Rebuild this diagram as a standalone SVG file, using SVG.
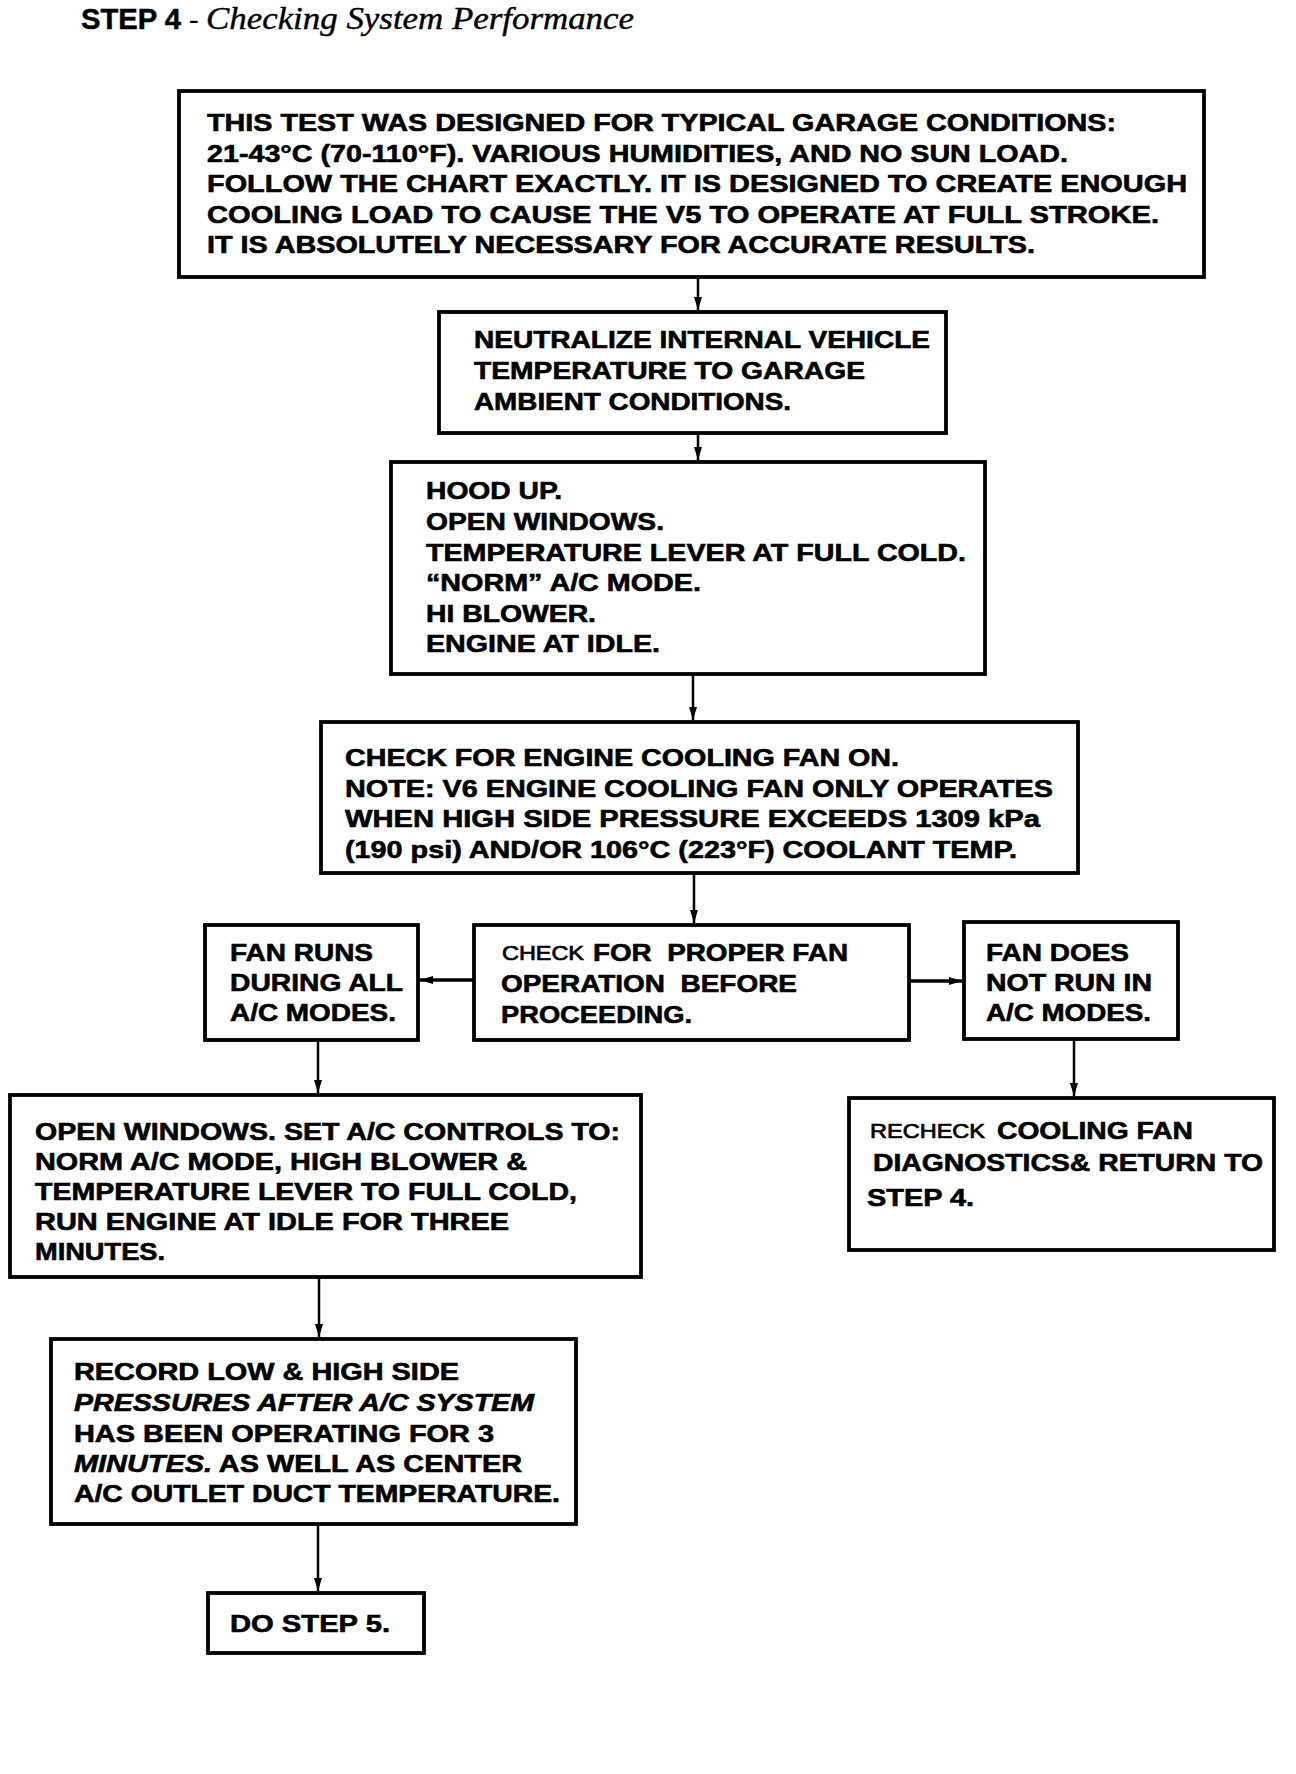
<svg xmlns="http://www.w3.org/2000/svg" width="1296" height="1774" viewBox="0 0 1296 1774">
<defs>
<style>
.box{fill:#fff;stroke:#000;stroke-width:3.8}
.t{font-family:"Liberation Sans",Arial,sans-serif;font-weight:bold;font-size:24px;fill:#000;stroke:#000;stroke-width:0.6}
.m{font-family:"Liberation Sans",Arial,sans-serif;font-weight:normal;font-size:20px;fill:#000;stroke:#000;stroke-width:0.7}
.it{font-style:italic}
.c{stroke:#000;stroke-width:2.5;fill:none}
.ch{stroke:#000;stroke-width:3.5;fill:none}
</style>
<marker id="ah" markerUnits="userSpaceOnUse" markerWidth="14" markerHeight="9" refX="13" refY="4.5" orient="auto">
<path d="M0,0.5 L13,4.5 L0,8.5 z" fill="#000"/>
</marker>
</defs>
<rect width="1296" height="1774" fill="#fff"/>

<g id="title">
<text x="81" y="29" style="font-family:'Liberation Sans',Arial,sans-serif;font-weight:bold;font-size:29px;stroke:#000;stroke-width:0.5" textLength="100" lengthAdjust="spacingAndGlyphs">STEP 4</text>
<text x="189" y="29" style="font-family:'Liberation Serif','Times New Roman',serif;font-size:29px">-</text>
<text x="206" y="29" style="font-family:'Liberation Serif','Times New Roman',serif;font-style:italic;font-size:31px;stroke:#000;stroke-width:0.4" textLength="428" lengthAdjust="spacingAndGlyphs">Checking System Performance</text>
</g>

<g id="connectors">
<line class="c" x1="698" y1="277" x2="698" y2="310" marker-end="url(#ah)"/>
<line class="c" x1="698" y1="433" x2="698" y2="460" marker-end="url(#ah)"/>
<line class="c" x1="693" y1="674" x2="693" y2="720" marker-end="url(#ah)"/>
<line class="c" x1="694" y1="873" x2="694" y2="923" marker-end="url(#ah)"/>
<line class="ch" x1="474" y1="980" x2="420" y2="980" marker-end="url(#ah)"/>
<line class="ch" x1="909" y1="981" x2="962" y2="981" marker-end="url(#ah)"/>
<line class="c" x1="318" y1="1040" x2="318" y2="1093" marker-end="url(#ah)"/>
<line class="c" x1="1074" y1="1039" x2="1074" y2="1096" marker-end="url(#ah)"/>
<line class="c" x1="319" y1="1277" x2="319" y2="1337" marker-end="url(#ah)"/>
<line class="c" x1="318" y1="1524" x2="318" y2="1591" marker-end="url(#ah)"/>
</g>

<g id="n1">
<rect class="box" x="179" y="91" width="1025" height="186"/>
<text class="t" x="207" y="131" textLength="909" lengthAdjust="spacingAndGlyphs">THIS TEST WAS DESIGNED FOR TYPICAL GARAGE CONDITIONS:</text>
<text class="t" x="207" y="161.5" textLength="861" lengthAdjust="spacingAndGlyphs">21-43°C (70-110°F). VARIOUS HUMIDITIES, AND NO SUN LOAD.</text>
<text class="t" x="207" y="192" textLength="980" lengthAdjust="spacingAndGlyphs">FOLLOW THE CHART EXACTLY. IT IS DESIGNED TO CREATE ENOUGH</text>
<text class="t" x="207" y="222.5" textLength="952" lengthAdjust="spacingAndGlyphs">COOLING LOAD TO CAUSE THE V5 TO OPERATE AT FULL STROKE.</text>
<text class="t" x="207" y="253" textLength="828" lengthAdjust="spacingAndGlyphs">IT IS ABSOLUTELY NECESSARY FOR ACCURATE RESULTS.</text>
</g>

<g id="n2">
<rect class="box" x="439" y="312" width="507" height="121"/>
<text class="t" x="474" y="348" textLength="456" lengthAdjust="spacingAndGlyphs">NEUTRALIZE INTERNAL VEHICLE</text>
<text class="t" x="474" y="379" textLength="391" lengthAdjust="spacingAndGlyphs">TEMPERATURE TO GARAGE</text>
<text class="t" x="474" y="409.5" textLength="317" lengthAdjust="spacingAndGlyphs">AMBIENT CONDITIONS.</text>
</g>

<g id="n3">
<rect class="box" x="391" y="462" width="594" height="212"/>
<text class="t" x="426" y="499" textLength="136" lengthAdjust="spacingAndGlyphs">HOOD UP.</text>
<text class="t" x="426" y="530" textLength="238" lengthAdjust="spacingAndGlyphs">OPEN WINDOWS.</text>
<text class="t" x="426" y="560.5" textLength="540" lengthAdjust="spacingAndGlyphs">TEMPERATURE LEVER AT FULL COLD.</text>
<text class="t" x="426" y="591" textLength="275" lengthAdjust="spacingAndGlyphs">“NORM” A/C MODE.</text>
<text class="t" x="426" y="621.5" textLength="170" lengthAdjust="spacingAndGlyphs">HI BLOWER.</text>
<text class="t" x="426" y="652" textLength="234" lengthAdjust="spacingAndGlyphs">ENGINE AT IDLE.</text>
</g>

<g id="n4">
<rect class="box" x="321" y="722" width="757" height="151"/>
<text class="t" x="345" y="766" textLength="554" lengthAdjust="spacingAndGlyphs">CHECK FOR ENGINE COOLING FAN ON.</text>
<text class="t" x="345" y="796.5" textLength="708" lengthAdjust="spacingAndGlyphs">NOTE: V6 ENGINE COOLING FAN ONLY OPERATES</text>
<text class="t" x="345" y="827" textLength="695" lengthAdjust="spacingAndGlyphs">WHEN HIGH SIDE PRESSURE EXCEEDS 1309 kPa</text>
<text class="t" x="345" y="857.5" textLength="672" lengthAdjust="spacingAndGlyphs">(190 psi) AND/OR 106°C (223°F) COOLANT TEMP.</text>
</g>

<g id="n5">
<rect class="box" x="205" y="925" width="213" height="115"/>
<text class="t" x="230" y="961" textLength="143" lengthAdjust="spacingAndGlyphs">FAN RUNS</text>
<text class="t" x="230" y="991" textLength="173" lengthAdjust="spacingAndGlyphs">DURING ALL</text>
<text class="t" x="230" y="1021" textLength="166" lengthAdjust="spacingAndGlyphs">A/C MODES.</text>
</g>

<g id="n6">
<rect class="box" x="474" y="925" width="435" height="115"/>
<text class="m" x="502" y="960" textLength="82" lengthAdjust="spacingAndGlyphs">CHECK</text>
<text class="t" x="593" y="961" textLength="255" lengthAdjust="spacingAndGlyphs" xml:space="preserve">FOR  PROPER FAN</text>
<text class="t" x="501" y="992" textLength="296" lengthAdjust="spacingAndGlyphs" xml:space="preserve">OPERATION  BEFORE</text>
<text class="t" x="501" y="1023" textLength="191" lengthAdjust="spacingAndGlyphs">PROCEEDING.</text>
</g>

<g id="n7">
<rect class="box" x="964" y="922" width="214" height="117"/>
<text class="t" x="986" y="961" textLength="143" lengthAdjust="spacingAndGlyphs">FAN DOES</text>
<text class="t" x="986" y="991" textLength="166" lengthAdjust="spacingAndGlyphs">NOT RUN IN</text>
<text class="t" x="986" y="1021" textLength="165" lengthAdjust="spacingAndGlyphs">A/C MODES.</text>
</g>

<g id="n8">
<rect class="box" x="10" y="1095" width="631" height="182"/>
<text class="t" x="35" y="1140" textLength="585" lengthAdjust="spacingAndGlyphs">OPEN WINDOWS. SET A/C CONTROLS TO:</text>
<text class="t" x="35" y="1170" textLength="492" lengthAdjust="spacingAndGlyphs">NORM A/C MODE, HIGH BLOWER &amp;</text>
<text class="t" x="35" y="1200" textLength="542" lengthAdjust="spacingAndGlyphs">TEMPERATURE LEVER TO FULL COLD,</text>
<text class="t" x="35" y="1230" textLength="474" lengthAdjust="spacingAndGlyphs">RUN ENGINE AT IDLE FOR THREE</text>
<text class="t" x="35" y="1260" textLength="130" lengthAdjust="spacingAndGlyphs">MINUTES.</text>
</g>

<g id="n9">
<rect class="box" x="849" y="1098" width="425" height="152"/>
<text class="m" x="870" y="1138" textLength="115" lengthAdjust="spacingAndGlyphs">RECHECK</text>
<text class="t" x="997" y="1139" textLength="196" lengthAdjust="spacingAndGlyphs">COOLING FAN</text>
<text class="t" x="873" y="1171" textLength="390" lengthAdjust="spacingAndGlyphs">DIAGNOSTICS&amp; RETURN TO</text>
<text class="t" x="867" y="1206" textLength="107" lengthAdjust="spacingAndGlyphs">STEP 4.</text>
</g>

<g id="n10">
<rect class="box" x="51" y="1339" width="525" height="185"/>
<text class="t" x="74" y="1380" textLength="385" lengthAdjust="spacingAndGlyphs">RECORD LOW &amp; HIGH SIDE</text>
<text class="t it" x="74" y="1411" textLength="460" lengthAdjust="spacingAndGlyphs">PRESSURES AFTER A/C SYSTEM</text>
<text class="t" x="74" y="1442" textLength="420" lengthAdjust="spacingAndGlyphs">HAS BEEN OPERATING FOR 3</text>
<text class="t" x="74" y="1472" textLength="448" lengthAdjust="spacingAndGlyphs"><tspan class="it">MINUTES.</tspan> AS WELL AS CENTER</text>
<text class="t" x="74" y="1502" textLength="486" lengthAdjust="spacingAndGlyphs">A/C OUTLET DUCT TEMPERATURE.</text>
</g>

<g id="n11">
<rect class="box" x="208" y="1593" width="216" height="60"/>
<text class="t" x="230" y="1632" textLength="160" lengthAdjust="spacingAndGlyphs">DO STEP 5.</text>
</g>
</svg>
